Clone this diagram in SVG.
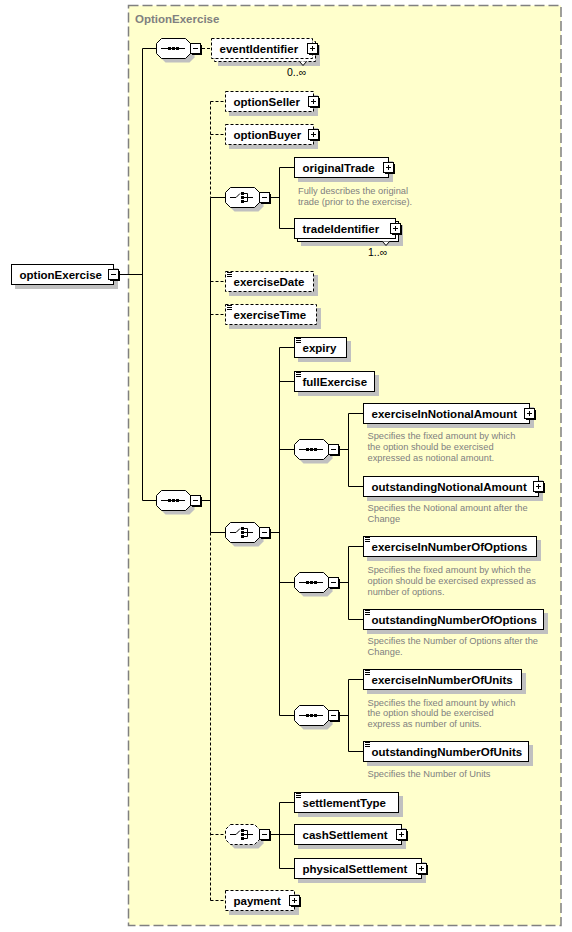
<svg xmlns="http://www.w3.org/2000/svg" xmlns:xlink="http://www.w3.org/1999/xlink" width="572" height="932" viewBox="0 0 572 932">
<style>
.sh{fill:#c0c0c0}
.box{fill:#fff;stroke:#000;stroke-width:1}
.dbox{fill:#fff;stroke:#000;stroke-width:1;stroke-dasharray:3,2}
.lbl{font-family:"Liberation Sans",Arial,sans-serif;font-size:11.5px;font-weight:bold;fill:#000}
.ann{font-family:"Liberation Sans",Arial,sans-serif;font-size:9.3px;fill:#808080}
.occ{font-family:"Liberation Sans",Arial,sans-serif;font-size:10.5px;fill:#000}
.ttl{font-family:"Liberation Sans",Arial,sans-serif;font-size:11.5px;font-weight:bold;fill:#808080}
.ln{fill:none;stroke:#000;stroke-width:1}
.dl{fill:none;stroke:#000;stroke-width:1;stroke-dasharray:3,2}
</style>
<defs>
<path id="oct" d="M5.5 0.5H29.5L34.5 5.5V15.5L29.5 20.5H5.5L0.5 15.5V5.5Z"/>
<g id="minus"><rect x="2" y="2" width="10" height="10" fill="#000"/><rect x="0.5" y="0.5" width="10" height="10" fill="#fff" stroke="#000"/><path d="M3 5.5H8" stroke="#000"/></g>
<g id="plus"><rect x="2" y="2" width="10" height="10" fill="#000"/><rect x="0.5" y="0.5" width="10" height="10" fill="#fff" stroke="#000"/><path d="M3 5.5H8M5.5 3V8" stroke="#000"/></g>
<path id="eq" d="M0 0.5H5M0 2.5H5M0 4.5H5" stroke="#000" fill="none"/>
<g id="seqIcon"><path d="M5 10.5H29" stroke="#000" fill="none"/><rect x="12" y="9" width="3" height="3" fill="#000"/><rect x="16" y="9" width="3" height="3" fill="#000"/><rect x="20" y="9" width="3" height="3" fill="#000"/></g>
<g id="choiceIcon"><path d="M5 10.5H11L15 6.5M19 6.5H22.5V14.5H19M19 10.5H28" stroke="#000" fill="none"/><rect x="16" y="5" width="3" height="3" fill="#000"/><rect x="16" y="9" width="3" height="3" fill="#000"/><rect x="16" y="13" width="3" height="3" fill="#000"/></g>
</defs>

<g id="frame">
<rect x="128.5" y="5.5" width="432.5" height="920" fill="#ffffcc" stroke="#808080" stroke-width="1.5" stroke-dasharray="10,4"/>
<text class="ttl" x="135" y="23">OptionExercise</text>
</g>

<g id="connectors">
<path class="ln" d="M119 274.5H142.5M142.5 48.5V500.5M142.5 48.5H156M142.5 500.5H156M202 500.5H210.5M210.5 197.5V532.5M210.5 197.5H225M210.5 532.5H225M271 197.5H279.5M279.5 167.5V228.5M279.5 167.5H294M279.5 228.5H294M271 532.5H279.5M279.5 347.5V715.5M279.5 347.5H294M279.5 381.5H294M279.5 449.5H294M279.5 582.5H294M279.5 715.5H294M340 449.5H348.5M348.5 413.5V486.5M348.5 413.5H363M348.5 486.5H363M340 582.5H348.5M348.5 546.5V619.5M348.5 546.5H363M348.5 619.5H363M340 715.5H348.5M348.5 679.5V751.5M348.5 679.5H363M348.5 751.5H363M271 834.5H279.5M279.5 802.5V868.5M279.5 802.5H294M279.5 834.5H294M279.5 868.5H294"/>
<path class="dl" d="M202 48.5H211M210.5 101.5V197.5M210.5 532.5V900.5M210.5 101.5H225M210.5 134.5H225M210.5 281.5H225M210.5 314.5H225M210.5 834.5H225M210.5 900.5H225"/>
</g>

<g id="optionExercise">
<rect class="sh" x="15" y="268" width="103" height="21"/>
<rect class="box" x="11.5" y="264.5" width="102" height="20"/>
<text class="lbl" x="19.5" y="278.5">optionExercise</text>
<use xlink:href="#minus" x="108" y="269"/>
</g>

<g id="seq1">
<use xlink:href="#oct" x="160" y="42" class="sh"/>
<use xlink:href="#oct" x="156" y="38" fill="#fff" stroke="#000"/>
<use xlink:href="#seqIcon" x="156" y="38"/>
<use xlink:href="#minus" x="190" y="43"/>
</g>

<g id="eventIdentifier">
<rect class="sh" x="218" y="45" width="102" height="21"/>
<rect class="dbox" x="214.5" y="41.5" width="101" height="20"/>
<rect class="dbox" x="211.5" y="38.5" width="101" height="20"/>
<text class="lbl" x="219.5" y="52.5">eventIdentifier</text>
<use xlink:href="#plus" x="307" y="43"/>
<path d="M299.5 61.5L303 65.5L306.5 61.5" fill="#fff" stroke="#000"/>
<text class="occ" x="287" y="76">0..∞</text>
</g>

<g id="seq2">
<use xlink:href="#oct" x="160" y="494" class="sh"/>
<use xlink:href="#oct" x="156" y="490" fill="#fff" stroke="#000"/>
<use xlink:href="#seqIcon" x="156" y="490"/>
<use xlink:href="#minus" x="190" y="495"/>
</g>

<g id="optionSeller">
<rect class="sh" x="229" y="95" width="89" height="21"/>
<rect class="dbox" x="225.5" y="91.5" width="88" height="20"/>
<text class="lbl" x="233.5" y="105.5">optionSeller</text>
<use xlink:href="#plus" x="308" y="96"/>
</g>

<g id="optionBuyer">
<rect class="sh" x="229" y="128" width="89" height="21"/>
<rect class="dbox" x="225.5" y="124.5" width="88" height="20"/>
<text class="lbl" x="233.5" y="138.5">optionBuyer</text>
<use xlink:href="#plus" x="308" y="129"/>
</g>

<g id="choice1">
<use xlink:href="#oct" x="229" y="191" class="sh"/>
<use xlink:href="#oct" x="225" y="187" fill="#fff" stroke="#000"/>
<use xlink:href="#choiceIcon" x="225" y="187"/>
<use xlink:href="#minus" x="259" y="192"/>
</g>

<g id="originalTrade">
<rect class="sh" x="298" y="161" width="95" height="21"/>
<rect class="box" x="294.5" y="157.5" width="94" height="20"/>
<text class="lbl" x="302.5" y="171.5">originalTrade</text>
<use xlink:href="#plus" x="383" y="162"/>
<text class="ann" x="298" y="193.5">Fully describes the original</text>
<text class="ann" x="298" y="204.5">trade (prior to the exercise).</text>
</g>

<g id="tradeIdentifier">
<rect class="sh" x="301" y="225" width="102" height="21"/>
<rect class="box" x="297.5" y="221.5" width="101" height="20"/>
<rect class="box" x="294.5" y="218.5" width="101" height="20"/>
<text class="lbl" x="302.5" y="232.5">tradeIdentifier</text>
<use xlink:href="#plus" x="390" y="223"/>
<path d="M382.5 241.5L386 245.5L389.5 241.5" fill="#fff" stroke="#000"/>
<text class="occ" x="368" y="256">1..∞</text>
</g>

<g id="exerciseDate">
<rect class="sh" x="229" y="275" width="89" height="21"/>
<rect class="dbox" x="225.5" y="271.5" width="88" height="20"/>
<use xlink:href="#eq" x="227" y="272"/>
<text class="lbl" x="233.5" y="285.5">exerciseDate</text>
</g>

<g id="exerciseTime">
<rect class="sh" x="229" y="308" width="92" height="21"/>
<rect class="dbox" x="225.5" y="304.5" width="91" height="20"/>
<use xlink:href="#eq" x="227" y="305"/>
<text class="lbl" x="233.5" y="318.5">exerciseTime</text>
</g>

<g id="choice2">
<use xlink:href="#oct" x="229" y="526" class="sh"/>
<use xlink:href="#oct" x="225" y="522" fill="#fff" stroke="#000"/>
<use xlink:href="#choiceIcon" x="225" y="522"/>
<use xlink:href="#minus" x="259" y="527"/>
</g>

<g id="expiry">
<rect class="sh" x="298" y="341" width="53" height="21"/>
<rect class="box" x="294.5" y="337.5" width="52" height="20"/>
<use xlink:href="#eq" x="296" y="338"/>
<text class="lbl" x="302.5" y="351.5">expiry</text>
</g>

<g id="fullExercise">
<rect class="sh" x="298" y="375" width="81" height="21"/>
<rect class="box" x="294.5" y="371.5" width="80" height="20"/>
<use xlink:href="#eq" x="296" y="372"/>
<text class="lbl" x="302.5" y="385.5">fullExercise</text>
</g>

<g id="seqA">
<use xlink:href="#oct" x="298" y="443" class="sh"/>
<use xlink:href="#oct" x="294" y="439" fill="#fff" stroke="#000"/>
<use xlink:href="#seqIcon" x="294" y="439"/>
<use xlink:href="#minus" x="328" y="444"/>
</g>

<g id="exerciseInNotionalAmount">
<rect class="sh" x="367" y="407" width="167" height="21"/>
<rect class="box" x="363.5" y="403.5" width="166" height="20"/>
<text class="lbl" x="371.5" y="417.5">exerciseInNotionalAmount</text>
<use xlink:href="#plus" x="524" y="408"/>
<text class="ann" x="367.5" y="438.5">Specifies the fixed amount by which</text>
<text class="ann" x="367.5" y="449.5">the option should be exercised</text>
<text class="ann" x="367.5" y="460.5">expressed as notional amount.</text>
</g>

<g id="outstandingNotionalAmount">
<rect class="sh" x="367" y="480" width="176" height="21"/>
<rect class="box" x="363.5" y="476.5" width="175" height="20"/>
<text class="lbl" x="371.5" y="490.5">outstandingNotionalAmount</text>
<use xlink:href="#plus" x="533" y="481"/>
<text class="ann" x="367.5" y="511">Specifies the Notional amount after the</text>
<text class="ann" x="367.5" y="522">Change</text>
</g>

<g id="seqB">
<use xlink:href="#oct" x="298" y="576" class="sh"/>
<use xlink:href="#oct" x="294" y="572" fill="#fff" stroke="#000"/>
<use xlink:href="#seqIcon" x="294" y="572"/>
<use xlink:href="#minus" x="328" y="577"/>
</g>

<g id="exerciseInNumberOfOptions">
<rect class="sh" x="367" y="540" width="174" height="21"/>
<rect class="box" x="363.5" y="536.5" width="173" height="20"/>
<use xlink:href="#eq" x="365" y="537"/>
<text class="lbl" x="371.5" y="550.5">exerciseInNumberOfOptions</text>
<text class="ann" x="367.5" y="572.5">Specifies the fixed amount by which the</text>
<text class="ann" x="367.5" y="583.5">option should be exercised expressed as</text>
<text class="ann" x="367.5" y="594.5">number of options.</text>
</g>

<g id="outstandingNumberOfOptions">
<rect class="sh" x="367" y="613" width="181" height="21"/>
<rect class="box" x="363.5" y="609.5" width="180" height="20"/>
<use xlink:href="#eq" x="365" y="610"/>
<text class="lbl" x="371.5" y="623.5">outstandingNumberOfOptions</text>
<text class="ann" x="367.5" y="643.5">Specifies the Number of Options after the</text>
<text class="ann" x="367.5" y="654.5">Change.</text>
</g>

<g id="seqC">
<use xlink:href="#oct" x="298" y="709" class="sh"/>
<use xlink:href="#oct" x="294" y="705" fill="#fff" stroke="#000"/>
<use xlink:href="#seqIcon" x="294" y="705"/>
<use xlink:href="#minus" x="328" y="710"/>
</g>

<g id="exerciseInNumberOfUnits">
<rect class="sh" x="367" y="673" width="159" height="21"/>
<rect class="box" x="363.5" y="669.5" width="158" height="20"/>
<use xlink:href="#eq" x="365" y="670"/>
<text class="lbl" x="371.5" y="683.5">exerciseInNumberOfUnits</text>
<text class="ann" x="367.5" y="705.5">Specifies the fixed amount by which</text>
<text class="ann" x="367.5" y="716">the option should be exercised</text>
<text class="ann" x="367.5" y="726.5">express as number of units.</text>
</g>

<g id="outstandingNumberOfUnits">
<rect class="sh" x="367" y="745" width="166" height="21"/>
<rect class="box" x="363.5" y="741.5" width="165" height="20"/>
<use xlink:href="#eq" x="365" y="742"/>
<text class="lbl" x="371.5" y="755.5">outstandingNumberOfUnits</text>
<text class="ann" x="367.5" y="776.5">Specifies the Number of Units</text>
</g>

<g id="choice3">
<use xlink:href="#oct" x="229" y="828" class="sh"/>
<use xlink:href="#oct" x="225" y="824" fill="#fff" stroke="#000" stroke-dasharray="3,2"/>
<use xlink:href="#choiceIcon" x="225" y="824"/>
<use xlink:href="#minus" x="259" y="829"/>
</g>

<g id="settlementType">
<rect class="sh" x="298" y="796" width="105" height="21"/>
<rect class="box" x="294.5" y="792.5" width="104" height="20"/>
<use xlink:href="#eq" x="296" y="793"/>
<text class="lbl" x="302.5" y="806.5">settlementType</text>
</g>

<g id="cashSettlement">
<rect class="sh" x="298" y="828" width="108" height="21"/>
<rect class="box" x="294.5" y="824.5" width="107" height="20"/>
<text class="lbl" x="302.5" y="838.5">cashSettlement</text>
<use xlink:href="#plus" x="396" y="829"/>
</g>

<g id="physicalSettlement">
<rect class="sh" x="298" y="862" width="128" height="21"/>
<rect class="box" x="294.5" y="858.5" width="127" height="20"/>
<text class="lbl" x="302.5" y="872.5">physicalSettlement</text>
<use xlink:href="#plus" x="416" y="863"/>
</g>

<g id="payment">
<rect class="sh" x="229" y="894" width="70" height="21"/>
<rect class="dbox" x="225.5" y="890.5" width="69" height="20"/>
<text class="lbl" x="233.5" y="904.5">payment</text>
<use xlink:href="#plus" x="289" y="895"/>
</g>
</svg>
